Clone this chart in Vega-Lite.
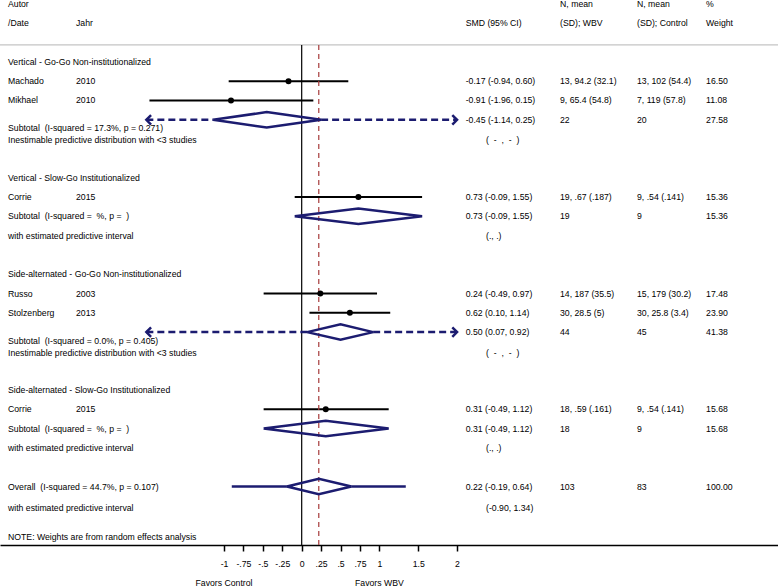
{
  "$schema": "https://vega.github.io/schema/vega-lite/v6.json",
  "width": 778,
  "height": 587,
  "autosize": {"type": "none"},
  "padding": 0,
  "background": "white",
  "config": {
    "view": {"stroke": null},
    "text": {"font": "Liberation Sans", "fontSize": 8.7, "color": "black", "align": "left", "baseline": "middle"}
  },
  "datasets": {
    "one": [{"k": 1}],
    "studies": [
      {"r": 4, "est": -0.17, "lo": -0.94, "hi": 0.60},
      {"r": 5, "est": -0.91, "lo": -1.96, "hi": 0.15},
      {"r": 10, "est": 0.73, "lo": -0.09, "hi": 1.55},
      {"r": 15, "est": 0.24, "lo": -0.49, "hi": 0.97},
      {"r": 16, "est": 0.62, "lo": 0.10, "hi": 1.14},
      {"r": 21, "est": 0.31, "lo": -0.49, "hi": 1.12}
    ],
    "diamonds": [
      {"g": 1, "k": 0, "x": -1.14, "r": 6}, {"g": 1, "k": 1, "x": -0.45, "r": 5.6}, {"g": 1, "k": 2, "x": 0.25, "r": 6}, {"g": 1, "k": 3, "x": -0.45, "r": 6.4}, {"g": 1, "k": 4, "x": -1.14, "r": 6},
      {"g": 2, "k": 0, "x": -0.09, "r": 11}, {"g": 2, "k": 1, "x": 0.73, "r": 10.6}, {"g": 2, "k": 2, "x": 1.55, "r": 11}, {"g": 2, "k": 3, "x": 0.73, "r": 11.4}, {"g": 2, "k": 4, "x": -0.09, "r": 11},
      {"g": 3, "k": 0, "x": 0.07, "r": 17}, {"g": 3, "k": 1, "x": 0.50, "r": 16.6}, {"g": 3, "k": 2, "x": 0.92, "r": 17}, {"g": 3, "k": 3, "x": 0.50, "r": 17.4}, {"g": 3, "k": 4, "x": 0.07, "r": 17},
      {"g": 4, "k": 0, "x": -0.49, "r": 22}, {"g": 4, "k": 1, "x": 0.31, "r": 21.6}, {"g": 4, "k": 2, "x": 1.12, "r": 22}, {"g": 4, "k": 3, "x": 0.31, "r": 22.4}, {"g": 4, "k": 4, "x": -0.49, "r": 22},
      {"g": 5, "k": 0, "x": -0.19, "r": 25}, {"g": 5, "k": 1, "x": 0.22, "r": 24.6}, {"g": 5, "k": 2, "x": 0.64, "r": 25}, {"g": 5, "k": 3, "x": 0.22, "r": 25.4}, {"g": 5, "k": 4, "x": -0.19, "r": 25}
    ],
    "dashed": [
      {"r": 6, "lo": -2.0, "hi": -1.14},
      {"r": 6, "lo": 0.25, "hi": 2.0},
      {"r": 17, "lo": -2.0, "hi": 0.07},
      {"r": 17, "lo": 0.92, "hi": 2.0}
    ],
    "solid": [
      {"r": 25, "lo": -0.90, "hi": -0.19},
      {"r": 25, "lo": 0.64, "hi": 1.34}
    ],
    "arrows": [
      {"r": 6, "x": -2.0, "dir": "left"},
      {"r": 6, "x": 2.0, "dir": "right"},
      {"r": 17, "x": -2.0, "dir": "left"},
      {"r": 17, "x": 2.0, "dir": "right"}
    ],
    "labels": [
      {"r": 0, "col": "a", "text": "Autor"},
      {"r": 0, "col": "nw", "text": "N, mean"},
      {"r": 0, "col": "nc", "text": "N, mean"},
      {"r": 0, "col": "w", "text": "%"},
      {"r": 1, "col": "a", "text": "/Date"},
      {"r": 1, "col": "y", "text": "Jahr"},
      {"r": 1, "col": "smd", "text": "SMD (95% CI)"},
      {"r": 1, "col": "nw", "text": "(SD); WBV"},
      {"r": 1, "col": "nc", "text": "(SD); Control"},
      {"r": 1, "col": "w", "text": "Weight"},
      {"r": 3, "col": "a", "text": "Vertical - Go-Go Non-institutionalized"},
      {"r": 4, "col": "a", "text": "Machado"},
      {"r": 4, "col": "y", "text": "2010"},
      {"r": 4, "col": "smd", "text": "-0.17 (-0.94, 0.60)"},
      {"r": 4, "col": "nw", "text": "13, 94.2 (32.1)"},
      {"r": 4, "col": "nc", "text": "13, 102 (54.4)"},
      {"r": 4, "col": "w", "text": "16.50"},
      {"r": 5, "col": "a", "text": "Mikhael"},
      {"r": 5, "col": "y", "text": "2010"},
      {"r": 5, "col": "smd", "text": "-0.91 (-1.96, 0.15)"},
      {"r": 5, "col": "nw", "text": "9, 65.4 (54.8)"},
      {"r": 5, "col": "nc", "text": "7, 119 (57.8)"},
      {"r": 5, "col": "w", "text": "11.08"},
      {"r": 6, "col": "smd", "text": "-0.45 (-1.14, 0.25)"},
      {"r": 6, "col": "nw", "text": "22"},
      {"r": 6, "col": "nc", "text": "20"},
      {"r": 6, "col": "w", "text": "27.58"},
      {"r": 6.45, "col": "a", "text": "Subtotal \u00a0(I-squared = 17.3%, p = 0.271)"},
      {"r": 7.07, "col": "a", "text": "Inestimable predictive distribution with <3 studies"},
      {"r": 7.07, "col": "pi", "text": "( \u00a0- \u00a0, \u00a0- \u00a0)"},
      {"r": 9, "col": "a", "text": "Vertical - Slow-Go Institutionalized"},
      {"r": 10, "col": "a", "text": "Corrie"},
      {"r": 10, "col": "y", "text": "2015"},
      {"r": 10, "col": "smd", "text": "0.73 (-0.09, 1.55)"},
      {"r": 10, "col": "nw", "text": "19, .67 (.187)"},
      {"r": 10, "col": "nc", "text": "9, .54 (.141)"},
      {"r": 10, "col": "w", "text": "15.36"},
      {"r": 11, "col": "a", "text": "Subtotal \u00a0(I-squared = \u00a0%, p = \u00a0)"},
      {"r": 11, "col": "smd", "text": "0.73 (-0.09, 1.55)"},
      {"r": 11, "col": "nw", "text": "19"},
      {"r": 11, "col": "nc", "text": "9"},
      {"r": 11, "col": "w", "text": "15.36"},
      {"r": 12, "col": "a", "text": "with estimated predictive interval"},
      {"r": 12, "col": "pi", "text": "(., .)"},
      {"r": 14, "col": "a", "text": "Side-alternated - Go-Go Non-institutionalized"},
      {"r": 15, "col": "a", "text": "Russo"},
      {"r": 15, "col": "y", "text": "2003"},
      {"r": 15, "col": "smd", "text": "0.24 (-0.49, 0.97)"},
      {"r": 15, "col": "nw", "text": "14, 187 (35.5)"},
      {"r": 15, "col": "nc", "text": "15, 179 (30.2)"},
      {"r": 15, "col": "w", "text": "17.48"},
      {"r": 16, "col": "a", "text": "Stolzenberg"},
      {"r": 16, "col": "y", "text": "2013"},
      {"r": 16, "col": "smd", "text": "0.62 (0.10, 1.14)"},
      {"r": 16, "col": "nw", "text": "30, 28.5 (5)"},
      {"r": 16, "col": "nc", "text": "30, 25.8 (3.4)"},
      {"r": 16, "col": "w", "text": "23.90"},
      {"r": 17, "col": "smd", "text": "0.50 (0.07, 0.92)"},
      {"r": 17, "col": "nw", "text": "44"},
      {"r": 17, "col": "nc", "text": "45"},
      {"r": 17, "col": "w", "text": "41.38"},
      {"r": 17.45, "col": "a", "text": "Subtotal \u00a0(I-squared = 0.0%, p = 0.405)"},
      {"r": 18.07, "col": "a", "text": "Inestimable predictive distribution with <3 studies"},
      {"r": 18.07, "col": "pi", "text": "( \u00a0- \u00a0, \u00a0- \u00a0)"},
      {"r": 20, "col": "a", "text": "Side-alternated - Slow-Go Institutionalized"},
      {"r": 21, "col": "a", "text": "Corrie"},
      {"r": 21, "col": "y", "text": "2015"},
      {"r": 21, "col": "smd", "text": "0.31 (-0.49, 1.12)"},
      {"r": 21, "col": "nw", "text": "18, .59 (.161)"},
      {"r": 21, "col": "nc", "text": "9, .54 (.141)"},
      {"r": 21, "col": "w", "text": "15.68"},
      {"r": 22, "col": "a", "text": "Subtotal \u00a0(I-squared = \u00a0%, p = \u00a0)"},
      {"r": 22, "col": "smd", "text": "0.31 (-0.49, 1.12)"},
      {"r": 22, "col": "nw", "text": "18"},
      {"r": 22, "col": "nc", "text": "9"},
      {"r": 22, "col": "w", "text": "15.68"},
      {"r": 23, "col": "a", "text": "with estimated predictive interval"},
      {"r": 23, "col": "pi", "text": "(., .)"},
      {"r": 25, "col": "a", "text": "Overall \u00a0(I-squared = 44.7%, p = 0.107)"},
      {"r": 25, "col": "smd", "text": "0.22 (-0.19, 0.64)"},
      {"r": 25, "col": "nw", "text": "103"},
      {"r": 25, "col": "nc", "text": "83"},
      {"r": 25, "col": "w", "text": "100.00"},
      {"r": 26.1, "col": "a", "text": "with estimated predictive interval"},
      {"r": 26.1, "col": "pi", "text": "(-0.90, 1.34)"},
      {"r": 27.6, "col": "a", "text": "NOTE: Weights are from random effects analysis"}
    ],
    "favors": [
      {"r": 30, "x": -1, "text": "Favors Control"},
      {"r": 30, "x": 1, "text": "Favors WBV"}
    ]
  },
  "layer": [
    {
      "data": {"name": "one"},
      "mark": {"type": "rule", "color": "#c4c4c4", "strokeWidth": 1.2},
      "encoding": {
        "y": {"datum": 2.12, "type": "quantitative", "scale": {"domain": [-0.207, 30.207], "reverse": true, "nice": false, "zero": false}, "axis": null}
      }
    },
    {
      "data": {"name": "studies"},
      "mark": {"type": "rule", "color": "black", "strokeWidth": 2},
      "encoding": {
        "x": {"field": "lo", "type": "quantitative", "title": null,
          "scale": {"domain": [-3.884, 6.132], "nice": false, "zero": false},
          "axis": {"orient": "bottom", "offset": -42, "values": [-1, -0.75, -0.5, -0.25, 0, 0.25, 0.5, 0.75, 1, 1.5, 2],
            "labelExpr": "replace(toString(datum.value), '0.', '.')",
            "grid": false, "domainColor": "black", "domainWidth": 1.5, "tickColor": "black", "tickWidth": 1.5, "tickSize": 6,
            "labelFont": "Liberation Sans", "labelFontSize": 8.7, "labelColor": "black", "labelPadding": 8, "labelFlush": false, "labelOverlap": false}},
        "x2": {"field": "hi"},
        "y": {"field": "r", "type": "quantitative", "axis": null}
      }
    },
    {
      "data": {"name": "one"},
      "mark": {"type": "rule", "color": "black", "strokeWidth": 1.2},
      "encoding": {
        "x": {"datum": 0, "type": "quantitative", "title": null},
        "y": {"datum": 2.12, "type": "quantitative", "axis": null},
        "y2": {"datum": 28.03}
      }
    },
    {
      "data": {"name": "one"},
      "mark": {"type": "rule", "color": "#a63a3a", "strokeWidth": 1.2, "strokeDash": [5, 4]},
      "encoding": {
        "x": {"datum": 0.22, "type": "quantitative", "title": null},
        "y": {"datum": 2.12, "type": "quantitative", "axis": null},
        "y2": {"datum": 28.03}
      }
    },
    {
      "data": {"name": "studies"},
      "mark": {"type": "point", "filled": true, "color": "black", "size": 36, "opacity": 1},
      "encoding": {
        "x": {"field": "est", "type": "quantitative", "title": null},
        "y": {"field": "r", "type": "quantitative", "axis": null}
      }
    },
    {
      "data": {"name": "dashed"},
      "mark": {"type": "rule", "color": "#1c1c70", "strokeWidth": 2.5, "strokeDash": [7, 4]},
      "encoding": {
        "x": {"field": "lo", "type": "quantitative", "title": null},
        "x2": {"field": "hi"},
        "y": {"field": "r", "type": "quantitative", "axis": null}
      }
    },
    {
      "data": {"name": "solid"},
      "mark": {"type": "rule", "color": "#1c1c70", "strokeWidth": 2.5},
      "encoding": {
        "x": {"field": "lo", "type": "quantitative", "title": null},
        "x2": {"field": "hi"},
        "y": {"field": "r", "type": "quantitative", "axis": null}
      }
    },
    {
      "data": {"name": "arrows"},
      "transform": [{"filter": "datum.dir == 'left'"}],
      "mark": {"type": "point", "shape": "M 1 -1 L 0 0 L 1 1", "filled": false, "color": "#1c1c70", "strokeWidth": 2.5, "size": 90, "opacity": 1},
      "encoding": {
        "x": {"field": "x", "type": "quantitative", "title": null},
        "y": {"field": "r", "type": "quantitative", "axis": null}
      }
    },
    {
      "data": {"name": "arrows"},
      "transform": [{"filter": "datum.dir == 'right'"}],
      "mark": {"type": "point", "shape": "M -1 -1 L 0 0 L -1 1", "filled": false, "color": "#1c1c70", "strokeWidth": 2.5, "size": 90, "opacity": 1},
      "encoding": {
        "x": {"field": "x", "type": "quantitative", "title": null},
        "y": {"field": "r", "type": "quantitative", "axis": null}
      }
    },
    {
      "data": {"name": "diamonds"},
      "mark": {"type": "line", "color": "#1c1c70", "strokeWidth": 2.5, "strokeJoin": "miter"},
      "encoding": {
        "x": {"field": "x", "type": "quantitative", "title": null},
        "y": {"field": "r", "type": "quantitative", "axis": null},
        "detail": {"field": "g", "type": "nominal"},
        "order": {"field": "k", "type": "quantitative"}
      }
    },
    {
      "data": {"name": "labels"},
      "transform": [{"filter": "datum.col == 'a'"}],
      "mark": {"type": "text"},
      "encoding": {
        "x": {"datum": -3.781, "type": "quantitative", "title": null},
        "y": {"field": "r", "type": "quantitative", "axis": null},
        "text": {"field": "text"}
      }
    },
    {
      "data": {"name": "labels"},
      "transform": [{"filter": "datum.col == 'y'"}],
      "mark": {"type": "text"},
      "encoding": {
        "x": {"datum": -2.906, "type": "quantitative", "title": null},
        "y": {"field": "r", "type": "quantitative", "axis": null},
        "text": {"field": "text"}
      }
    },
    {
      "data": {"name": "labels"},
      "transform": [{"filter": "datum.col == 'smd'"}],
      "mark": {"type": "text"},
      "encoding": {
        "x": {"datum": 2.111, "type": "quantitative", "title": null},
        "y": {"field": "r", "type": "quantitative", "axis": null},
        "text": {"field": "text"}
      }
    },
    {
      "data": {"name": "labels"},
      "transform": [{"filter": "datum.col == 'pi'"}],
      "mark": {"type": "text"},
      "encoding": {
        "x": {"datum": 2.373, "type": "quantitative", "title": null},
        "y": {"field": "r", "type": "quantitative", "axis": null},
        "text": {"field": "text"}
      }
    },
    {
      "data": {"name": "labels"},
      "transform": [{"filter": "datum.col == 'nw'"}],
      "mark": {"type": "text"},
      "encoding": {
        "x": {"datum": 3.326, "type": "quantitative", "title": null},
        "y": {"field": "r", "type": "quantitative", "axis": null},
        "text": {"field": "text"}
      }
    },
    {
      "data": {"name": "labels"},
      "transform": [{"filter": "datum.col == 'nc'"}],
      "mark": {"type": "text"},
      "encoding": {
        "x": {"datum": 4.317, "type": "quantitative", "title": null},
        "y": {"field": "r", "type": "quantitative", "axis": null},
        "text": {"field": "text"}
      }
    },
    {
      "data": {"name": "labels"},
      "transform": [{"filter": "datum.col == 'w'"}],
      "mark": {"type": "text"},
      "encoding": {
        "x": {"datum": 5.206, "type": "quantitative", "title": null},
        "y": {"field": "r", "type": "quantitative", "axis": null},
        "text": {"field": "text"}
      }
    },
    {
      "data": {"name": "favors"},
      "mark": {"type": "text", "align": "center"},
      "encoding": {
        "x": {"field": "x", "type": "quantitative", "title": null},
        "y": {"field": "r", "type": "quantitative", "axis": null},
        "text": {"field": "text"}
      }
    }
  ]
}
